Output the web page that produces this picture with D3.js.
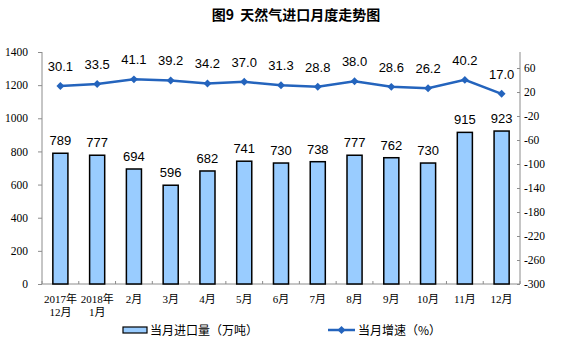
<!DOCTYPE html>
<html>
<head>
<meta charset="utf-8">
<script src="https://cdn.jsdelivr.net/npm/d3@7"></script>
<style>
  body { margin: 0; background: #fff; }
  .tick text { font-family: "Liberation Serif", "Noto Sans CJK SC", serif; font-size: 11.5px; fill: #000; }
  .axis .domain { stroke: #8c8c8c; }
  .axis .tick line { stroke: #8c8c8c; }
</style>
</head>
<body>
<svg width="561" height="352"></svg>
<script>
const svg = d3.select('svg');

// data
const months  = ['2017年|12月', '2018年|1月', '2月', '3月', '4月', '5月', '6月', '7月', '8月', '9月', '10月', '11月', '12月'];
const imports = [789, 777, 694, 596, 682, 741, 730, 738, 777, 762, 730, 915, 923];
const growth  = [30.1, 33.5, 41.1, 39.2, 34.2, 37.0, 31.3, 28.8, 38.0, 28.6, 26.2, 40.2, 17.0];
const leftTicks  = [0, 200, 400, 600, 800, 1000, 1200, 1400];
const rightTicks = [60, 20, -20, -60, -100, -140, -180, -220, -260, -300];

const margin = { left: 42, right: 41, top: 52, bottom: 68 };
const width = 561, height = 352;
const x0 = margin.left, x1 = width - margin.right;
const yTop = margin.top, yBot = height - margin.bottom;

const x = d3.scaleBand()
  .domain(months)
  .range([x0, x1])
  .paddingInner(0.59)
  .paddingOuter(0.295);

const yL = d3.scaleLinear().domain([0, 1400]).range([yBot, yTop]);
// right axis: 40 units per ~24px, top of frame around 86.7
const yR = d3.scaleLinear().domain([-300, 86.7]).range([yBot, yTop]);

// title
svg.append('text')
  .attr('x', 296).attr('y', 20)
  .attr('text-anchor', 'middle')
  .style('font-family', '"Noto Sans CJK SC", sans-serif')
  .style('font-size', '14px')
  .style('font-weight', 'bold')
  .style('white-space', 'pre')
  .text('图9  天然气进口月度走势图');

// left axis
const gL = svg.append('g').attr('class', 'axis')
  .attr('transform', `translate(${x0},0)`)
  .call(d3.axisLeft(yL).tickValues(leftTicks).tickSize(4).tickPadding(10).tickFormat(d => String(d)));

// right axis (ticks inward)
const gR = svg.append('g').attr('class', 'axis')
  .attr('transform', `translate(${x1},0)`)
  .call(d3.axisRight(yR).tickValues(rightTicks).tickSize(0).tickPadding(4).tickFormat(d => String(d)));
gR.selectAll('.tick line').attr('x2', -3);
gR.select('.domain').attr('d', `M0,${yTop}V${yBot}`);
gL.select('.domain').attr('d', `M0,${yTop}V${yBot}`);

// x axis with ticks between categories, pointing up
const gap = (x.step() - x.bandwidth()) / 2;
const bounds = months.map(d => x(d) - gap).concat([x1]);
svg.append('line')
  .attr('x1', x0).attr('x2', x1)
  .attr('y1', yBot).attr('y2', yBot)
  .attr('stroke', '#8c8c8c');
svg.selectAll('.xtick')
  .data(bounds).enter()
  .append('line')
    .attr('x1', d => d).attr('x2', d => d)
    .attr('y1', yBot).attr('y2', yBot - 3)
    .attr('stroke', '#8c8c8c');

const xl = svg.selectAll('.xlab')
  .data(months).enter()
  .append('text')
    .attr('text-anchor', 'middle')
    .attr('transform', d => `translate(${x(d) + x.bandwidth() / 2},${yBot + 19})`)
    .style('font-family', '"Liberation Serif", "Noto Sans CJK SC", serif')
    .style('font-size', '11px');
xl.selectAll('tspan')
  .data(d => d.split('|')).enter()
  .append('tspan')
    .attr('x', 0)
    .attr('dy', (d, i) => i === 0 ? 0 : 13)
    .text(d => d);

// bars
svg.selectAll('.bar')
  .data(imports).enter()
  .append('rect')
    .attr('x', (d, i) => x(months[i]))
    .attr('y', d => yL(d))
    .attr('width', x.bandwidth())
    .attr('height', d => yBot - yL(d))
    .attr('fill', '#99ccff')
    .attr('stroke', '#000')
    .attr('stroke-width', 1.5);

svg.selectAll('.barlab')
  .data(imports).enter()
  .append('text')
    .attr('x', (d, i) => x(months[i]) + x.bandwidth() / 2)
    .attr('y', d => yL(d) - 8)
    .attr('text-anchor', 'middle')
    .style('font-family', '"Liberation Sans", Arial, sans-serif')
    .style('font-size', '13px')
    .text(d => d);

// growth line
const cx = i => x(months[i]) + x.bandwidth() / 2;
const line = d3.line()
  .x((d, i) => cx(i))
  .y(d => yR(d));

svg.append('path')
  .datum(growth)
  .attr('d', line)
  .attr('fill', 'none')
  .attr('stroke', '#2464bd')
  .attr('stroke-width', 2.5);

const diamond = d3.symbol().type(d3.symbolDiamond2).size(40);
svg.selectAll('.pt')
  .data(growth).enter()
  .append('path')
    .attr('d', diamond)
    .attr('transform', (d, i) => `translate(${cx(i)},${yR(d)})`)
    .attr('fill', '#2464bd');

svg.selectAll('.linelab')
  .data(growth).enter()
  .append('text')
    .attr('x', (d, i) => cx(i))
    .attr('y', d => yR(d) - 15)
    .attr('text-anchor', 'middle')
    .style('font-family', '"Liberation Sans", Arial, sans-serif')
    .style('font-size', '13px')
    .text(d => d.toFixed(1));

// legend
const lg = svg.append('g')
  .style('font-family', '"Noto Sans CJK SC", sans-serif')
  .style('font-size', '12px');
lg.append('rect')
  .attr('x', 123).attr('y', 327).attr('width', 24).attr('height', 6)
  .attr('fill', '#99ccff').attr('stroke', '#000').attr('stroke-width', 1.2);
lg.append('text').attr('x', 150).attr('y', 334.5).text('当月进口量（万吨）');
lg.append('line')
  .attr('x1', 328).attr('x2', 355).attr('y1', 330).attr('y2', 330)
  .attr('stroke', '#2464bd').attr('stroke-width', 2.5);
lg.append('path')
  .attr('d', diamond)
  .attr('transform', 'translate(341.5,330)')
  .attr('fill', '#2464bd');
lg.append('text').attr('x', 358).attr('y', 334.5).text('当月增速（%）');
</script>
</body>
</html>
